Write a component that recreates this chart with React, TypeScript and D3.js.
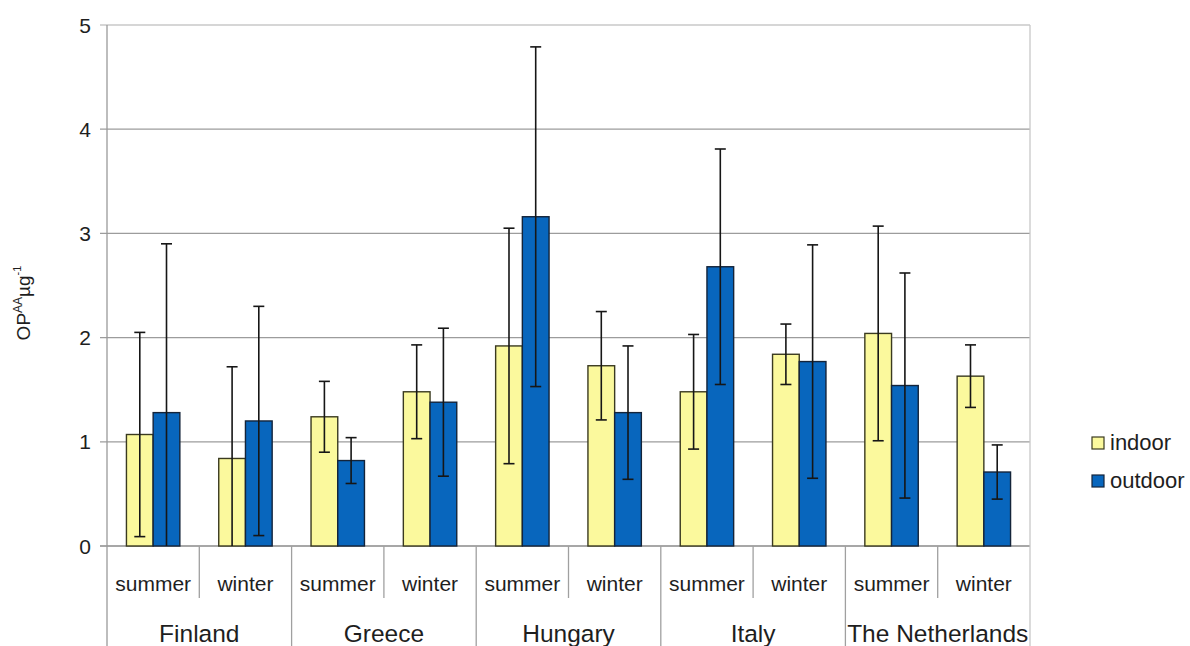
import React from "react";
import * as d3 from "d3";

// Oxidative potential (OP^AA per µg) of PM, indoor vs outdoor, by country and season
const countries = ["Finland", "Greece", "Hungary", "Italy", "The Netherlands"];
const seasons = ["summer", "winter"];
const seriesNames = ["indoor", "outdoor"];
const yTicks = [0, 1, 2, 3, 4, 5];

// one value per country × season, in country order (summer, winter)
const indoorMean = [1.07, 0.84, 1.24, 1.48, 1.92, 1.73, 1.48, 1.84, 2.04, 1.63];
const indoorErr = [0.98, 0.88, 0.34, 0.45, 1.13, 0.52, 0.55, 0.29, 1.03, 0.3];
const outdoorMean = [1.28, 1.2, 0.82, 1.38, 3.16, 1.28, 2.68, 1.77, 1.54, 0.71];
const outdoorErr = [1.62, 1.1, 0.22, 0.71, 1.63, 0.64, 1.13, 1.12, 1.08, 0.26];

const W = 1190;
const H = 646;
const plot = { left: 107, right: 1030, top: 25, bottom: 546 };
const colors: Record<string, string> = { indoor: "#fbf99d", outdoor: "#0866bd" };
const strokes: Record<string, string> = { indoor: "#3a3a20", outdoor: "#14243a" };
const FONT = "'Liberation Sans', Arial, Helvetica, sans-serif";

type Row = { key: string; country: string; season: string; values: { s: string; v: number; e: number }[] };

const rows: Row[] = [];
countries.forEach((c, ci) =>
  seasons.forEach((s, si) => {
    const i = ci * seasons.length + si;
    rows.push({
      key: `${c}|${s}`,
      country: c,
      season: s,
      values: [
        { s: "indoor", v: indoorMean[i], e: indoorErr[i] },
        { s: "outdoor", v: outdoorMean[i], e: outdoorErr[i] },
      ],
    });
  })
);

export default function App() {
  const x0 = d3
    .scaleBand<string>()
    .domain(rows.map((r) => r.key))
    .range([plot.left, plot.right])
    .padding(0);
  const x1 = d3
    .scaleBand<string>()
    .domain(seriesNames)
    .range([0, x0.bandwidth()])
    .paddingInner(0)
    .paddingOuter(0.728);
  const y = d3.scaleLinear().domain([0, 5]).range([plot.bottom, plot.top]);

  const bw = x1.bandwidth();
  const capHalf = 5.5;
  const countryWidth = x0.bandwidth() * seasons.length;

  return (
    <>
      <style>{"body{margin:0;background:#fff}"}</style>
      <svg width={W} height={H} style={{ display: "block", fontFamily: FONT }}>
        <rect x={0} y={0} width={W} height={H} fill="#fff" />
        <defs>
          <clipPath id="plotClip">
            <rect x={plot.left} y={plot.top - 2} width={plot.right - plot.left} height={plot.bottom - plot.top + 2} />
          </clipPath>
        </defs>

        {/* horizontal gridlines and left ticks */}
        {yTicks.map((t) => (
          <g key={t}>
            <line
              x1={plot.left - 7}
              x2={plot.right}
              y1={y(t)}
              y2={y(t)}
              stroke={t === 5 ? "#c8c8c8" : t === 0 ? "#8a8a8a" : "#9c9c9c"}
              strokeWidth={1.3}
            />
            <text x={91} y={y(t)} dy="0.36em" textAnchor="end" fontSize={21} fill="#1e1e1e">
              {t}
            </text>
          </g>
        ))}

        {/* left axis and right frame */}
        <line x1={plot.left} x2={plot.left} y1={plot.top} y2={H} stroke="#9a9a9a" strokeWidth={1.3} />
        <line x1={plot.right} x2={plot.right} y1={plot.top} y2={H} stroke="#c8c8c8" strokeWidth={1.3} />

        {/* bars */}
        {rows.map((r) => (
          <g key={r.key} transform={`translate(${x0(r.key)},0)`}>
            {r.values.map((d) => (
              <rect
                key={d.s}
                x={x1(d.s)}
                y={y(d.v)}
                width={bw}
                height={y(0) - y(d.v)}
                fill={colors[d.s]}
                stroke={strokes[d.s]}
                strokeWidth={1.4}
              />
            ))}
          </g>
        ))}

        {/* error bars (±), clipped at the zero line */}
        <g clipPath="url(#plotClip)">
          {rows.map((r) =>
            r.values.map((d) => {
              const cx = (x0(r.key) as number) + (x1(d.s) as number) + bw / 2;
              const hi = y(d.v + d.e);
              const lo = y(d.v - d.e);
              return (
                <g key={r.key + d.s} stroke="#161616" strokeWidth={1.6}>
                  <line x1={cx} x2={cx} y1={hi} y2={lo} />
                  <line x1={cx - capHalf} x2={cx + capHalf} y1={hi} y2={hi} />
                  <line x1={cx - capHalf} x2={cx + capHalf} y1={lo} y2={lo} />
                </g>
              );
            })
          )}
        </g>

        {/* category axis: season labels and dividers */}
        {rows.map((r, i) => {
          const left = x0(r.key) as number;
          const isCountryStart = i % seasons.length === 0;
          return (
            <g key={"ax" + r.key}>
              {!isCountryStart && (
                <line x1={left} x2={left} y1={plot.bottom} y2={598} stroke="#a0a0a0" strokeWidth={1.3} />
              )}
              {isCountryStart && i > 0 && (
                <line x1={left} x2={left} y1={plot.bottom} y2={H} stroke="#a0a0a0" strokeWidth={1.3} />
              )}
              <text
                x={left + x0.bandwidth() / 2}
                y={591}
                textAnchor="middle"
                fontSize={21}
                fill="#1e1e1e"
              >
                {r.season}
              </text>
            </g>
          );
        })}

        {/* country labels */}
        {countries.map((c) => (
          <text
            key={c}
            x={(x0(`${c}|${seasons[0]}`) as number) + countryWidth / 2}
            y={642}
            textAnchor="middle"
            fontSize={24.5}
            fill="#1e1e1e"
          >
            {c}
          </text>
        ))}

        {/* y-axis title */}
        <text
          transform={`translate(30,${303}) rotate(-90)`}
          textAnchor="middle"
          fontSize={19}
          fill="#1e1e1e"
        >
          OP
          <tspan fontSize={12} dy={-8}>
            AA
          </tspan>
          <tspan dy={8}>µg</tspan>
          <tspan fontSize={11} dy={-9}>
            -1
          </tspan>
        </text>

        {/* legend */}
        {seriesNames.map((s, i) => (
          <g key={s} transform={`translate(1092,${437 + i * 38})`}>
            <rect x={0} y={0} width={12} height={12} fill={colors[s]} stroke={strokes[s]} strokeWidth={1.2} />
            <text x={18} y={13} fontSize={22} fill="#1e1e1e">
              {s}
            </text>
          </g>
        ))}
      </svg>
    </>
  );
}
